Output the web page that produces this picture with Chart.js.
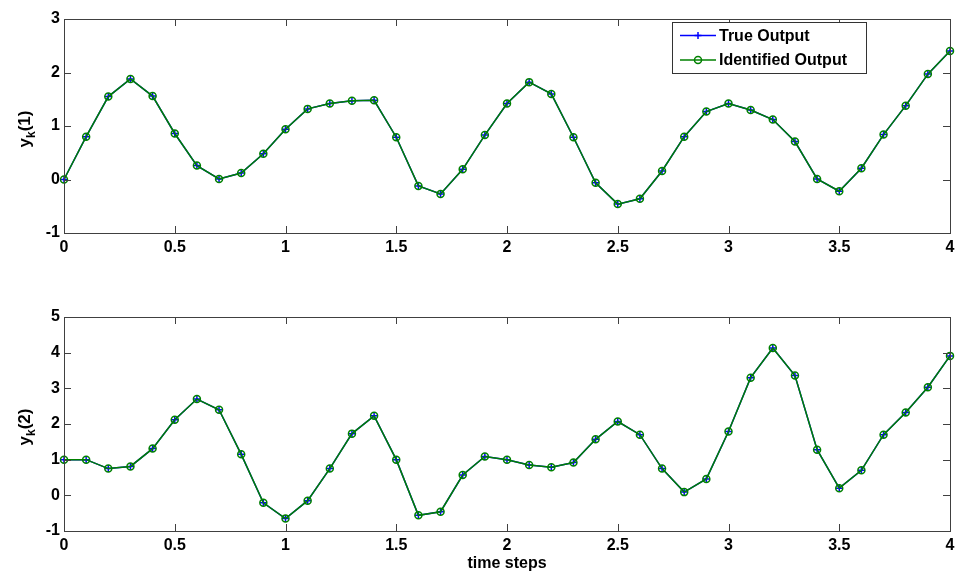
<!DOCTYPE html>
<html>
<head>
<meta charset="utf-8">
<script src="https://cdn.jsdelivr.net/npm/chart.js@4/dist/chart.umd.min.js"></script>
<style>
  body { margin: 0; background: #fff; }
  #wrap { position: relative; width: 956px; height: 576px; }
  canvas { position: absolute; left: 0; }
</style>
</head>
<body>
<div id="wrap">
  <canvas id="top-chart" width="956" height="288" style="top:0"></canvas>
  <canvas id="bottom-chart" width="956" height="288" style="top:288px"></canvas>
</div>
<script>
// time axis, one sample every 0.1
const timeSteps = [0, 0.1, 0.2, 0.3, 0.4, 0.5, 0.6, 0.7, 0.8, 0.9,
  1.0, 1.1, 1.2, 1.3, 1.4, 1.5, 1.6, 1.7, 1.8, 1.9,
  2.0, 2.1, 2.2, 2.3, 2.4, 2.5, 2.6, 2.7, 2.8, 2.9,
  3.0, 3.1, 3.2, 3.3, 3.4, 3.5, 3.6, 3.7, 3.8, 3.9, 4.0];

// y_k(1)
const trueOutput1 = [0, 0.80, 1.55, 1.88, 1.56, 0.86, 0.26, 0.01, 0.12, 0.48,
  0.94, 1.32, 1.42, 1.47, 1.48, 0.79, -0.12, -0.27, 0.19, 0.83,
  1.42, 1.82, 1.60, 0.79, -0.06, -0.46, -0.36, 0.16, 0.80, 1.27,
  1.42, 1.30, 1.12, 0.71, 0.01, -0.22, 0.21, 0.84, 1.38, 1.97, 2.40];
const identOutput1 = [0, 0.80, 1.55, 1.88, 1.56, 0.86, 0.26, 0.01, 0.12, 0.48,
  0.94, 1.32, 1.42, 1.47, 1.48, 0.79, -0.12, -0.27, 0.19, 0.83,
  1.42, 1.82, 1.60, 0.79, -0.06, -0.46, -0.36, 0.16, 0.80, 1.27,
  1.42, 1.30, 1.12, 0.71, 0.01, -0.22, 0.21, 0.84, 1.38, 1.97, 2.40];

// y_k(2)
const trueOutput2 = [1.00, 1.00, 0.75, 0.81, 1.31, 2.12, 2.70, 2.40, 1.15, -0.21,
  -0.65, -0.15, 0.75, 1.73, 2.23, 1.00, -0.56, -0.46, 0.57, 1.09,
  1.00, 0.85, 0.79, 0.92, 1.57, 2.07, 1.70, 0.75, 0.09, 0.46,
  1.79, 3.30, 4.13, 3.36, 1.28, 0.20, 0.70, 1.70, 2.32, 3.03, 3.91];
const identOutput2 = [1.00, 1.00, 0.75, 0.81, 1.31, 2.12, 2.70, 2.40, 1.15, -0.21,
  -0.65, -0.15, 0.75, 1.73, 2.23, 1.00, -0.56, -0.46, 0.57, 1.09,
  1.00, 0.85, 0.79, 0.92, 1.57, 2.07, 1.70, 0.75, 0.09, 0.46,
  1.79, 3.30, 4.13, 3.36, 1.28, 0.20, 0.70, 1.70, 2.32, 3.03, 3.91];

const xTicks = [0, 0.5, 1, 1.5, 2, 2.5, 3, 3.5, 4];
const yTicks1 = [-1, 0, 1, 2, 3];
const yTicks2 = [-1, 0, 1, 2, 3, 4, 5];

const FONT = "'Liberation Sans', Arial, sans-serif";
const BLUE = '#0000ff';
const GREEN = '#008000';

function toPoints(ys) {
  return timeSteps.map((t, i) => ({ x: t, y: ys[i] }));
}

function makeDatasets(trueY, identY) {
  return [{
    label: 'True Output',
    data: toPoints(trueY),
    borderColor: BLUE,
    borderWidth: 1.5,
    pointStyle: 'cross',
    pointRadius: 3.5,
    pointBorderColor: BLUE,
    pointBorderWidth: 1.5,
    order: 1,
    clip: false,
  }, {
    label: 'Identified Output',
    data: toPoints(identY),
    borderColor: GREEN,
    borderWidth: 1.5,
    pointStyle: 'circle',
    pointRadius: 3.5,
    pointBackgroundColor: 'rgba(0,0,0,0)',
    pointBorderColor: GREEN,
    pointBorderWidth: 1.5,
    order: 0,
    clip: false,
  }];
}

// MATLAB-like box with inward ticks on all four sides
const boxPlugin = {
  id: 'box',
  afterDraw(chart) {
    const ctx = chart.ctx;
    const a = chart.chartArea;
    const len = 7;
    ctx.save();
    ctx.strokeStyle = '#404040';
    ctx.lineWidth = 1;
    ctx.beginPath();
    chart.scales.x.ticks.forEach(t => {
      const px = Math.round(chart.scales.x.getPixelForValue(t.value)) + 0.5;
      ctx.moveTo(px, a.bottom); ctx.lineTo(px, a.bottom - len);
      ctx.moveTo(px, a.top); ctx.lineTo(px, a.top + len);
    });
    chart.scales.y.ticks.forEach(t => {
      const py = Math.round(chart.scales.y.getPixelForValue(t.value)) + 0.5;
      ctx.moveTo(a.left, py); ctx.lineTo(a.left + len, py);
      ctx.moveTo(a.right, py); ctx.lineTo(a.right - len, py);
    });
    ctx.stroke();
    ctx.strokeRect(Math.round(a.left) + 0.5, Math.round(a.top) + 0.5,
      Math.round(a.right - a.left), Math.round(a.bottom - a.top));
    ctx.restore();

    // y title with subscript k
    const o = chart.options.plugins.yTitle;
    const midY = (a.top + a.bottom) / 2 + 3;
    ctx.save();
    ctx.translate(30, midY);
    ctx.rotate(-Math.PI / 2);
    ctx.fillStyle = '#000';
    ctx.textBaseline = 'alphabetic';
    ctx.textAlign = 'left';
    const big = 'bold 17px ' + FONT, small = 'bold 12px ' + FONT;
    ctx.font = big; const w1 = ctx.measureText('y').width;
    ctx.font = small; const w2 = ctx.measureText('k').width;
    ctx.font = big; const w3 = ctx.measureText(o.tail).width;
    let x = -(w1 + w2 + w3) / 2;
    ctx.font = big; ctx.fillText('y', x, 0); x += w1;
    ctx.font = small; ctx.fillText('k', x, 5); x += w2;
    ctx.font = big; ctx.fillText(o.tail, x, 0);
    ctx.restore();

    if (o.xTitle) {
      ctx.save();
      ctx.font = 'bold 16px ' + FONT;
      ctx.fillStyle = '#000';
      ctx.textAlign = 'center';
      ctx.textBaseline = 'alphabetic';
      ctx.fillText(o.xTitle, (a.left + a.right) / 2, chart.height - 8);
      ctx.restore();
    }

    if (o.legend) {
      const bx = 672.5, by = 22.5, bw = 194, bh = 51;
      ctx.save();
      ctx.fillStyle = '#fff';
      ctx.fillRect(bx, by, bw, bh);
      ctx.strokeStyle = '#333';
      ctx.lineWidth = 1;
      ctx.strokeRect(bx, by, bw, bh);
      ctx.font = 'bold 16px ' + FONT;
      ctx.textBaseline = 'middle';
      chart.data.datasets.forEach((ds, i) => {
        const ry = by + 13 + i * 24.5;
        ctx.strokeStyle = ds.borderColor;
        ctx.lineWidth = 1.5;
        ctx.beginPath();
        ctx.moveTo(680, ry); ctx.lineTo(716, ry);
        ctx.stroke();
        ctx.fillStyle = 'rgba(0,0,0,0)';
        Chart.helpers.drawPoint(ctx, {
          pointStyle: ds.pointStyle, radius: ds.pointRadius, borderWidth: 1.5
        }, 698, ry);
        ctx.fillStyle = '#000';
        ctx.fillText(ds.label, 719, ry + 1);
      });
      ctx.restore();
    }
  }
};

function makeChart(id, trueY, identY, yTicks, padTop, xHeight, extra) {
  const tickFont = { family: FONT, size: 16, weight: 'bold' };
  return new Chart(document.getElementById(id), {
    type: 'line',
    data: { datasets: makeDatasets(trueY, identY) },
    options: {
      responsive: false,
      animation: false,
      layout: { padding: { top: padTop, right: 6, left: 0, bottom: 0 } },
      scales: {
        x: {
          type: 'linear',
          min: xTicks[0],
          max: xTicks[xTicks.length - 1],
          afterBuildTicks: s => { s.ticks = xTicks.map(v => ({ value: v })); },
          afterFit: s => { s.height = xHeight; s.paddingLeft = 0; s.paddingRight = 0; },
          grid: { display: false, drawTicks: false },
          border: { display: false },
          ticks: { color: '#000', font: tickFont, padding: 5, maxRotation: 0,
            callback: v => String(v) },
        },
        y: {
          min: yTicks[0],
          max: yTicks[yTicks.length - 1],
          afterBuildTicks: s => { s.ticks = yTicks.map(v => ({ value: v })); },
          afterFit: s => { s.width = 64; s.paddingTop = 0; s.paddingBottom = 0; },
          grid: { display: false, drawTicks: false },
          border: { display: false },
          ticks: { color: '#000', font: tickFont, padding: 4,
            callback: v => String(v) },
        },
      },
      plugins: {
        legend: { display: false },
        tooltip: { enabled: false },
        yTitle: extra,
      },
    },
    plugins: [boxPlugin],
  });
}

makeChart('top-chart', trueOutput1, identOutput1, yTicks1, 19, 55,
  { tail: '(1)', legend: true });
makeChart('bottom-chart', trueOutput2, identOutput2, yTicks2, 29, 45,
  { tail: '(2)', xTitle: 'time steps' });
</script>
</body>
</html>
